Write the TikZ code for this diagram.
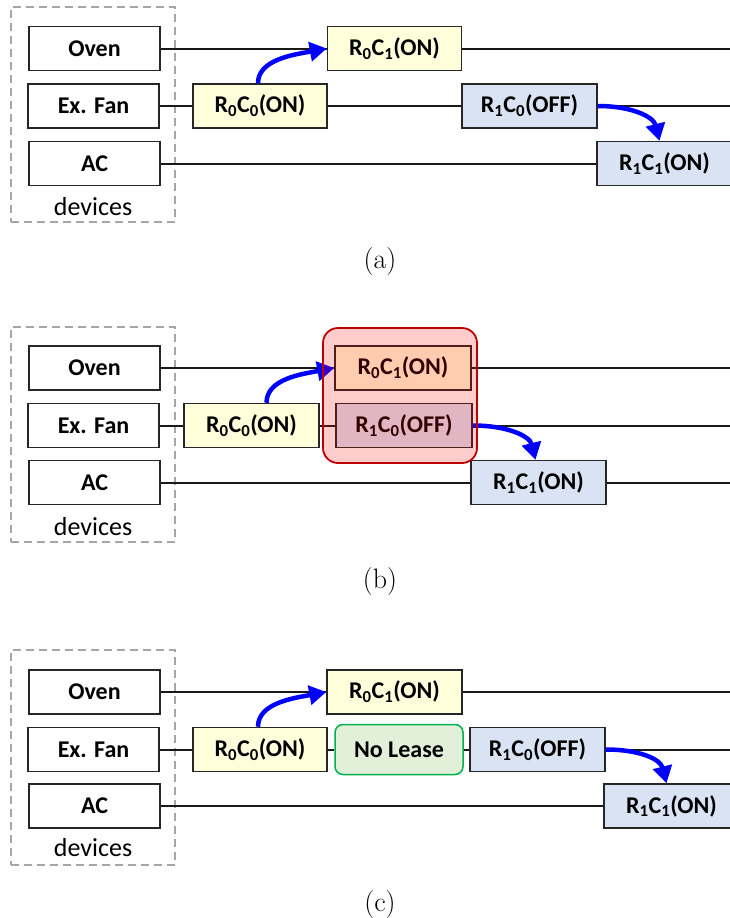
\documentclass[tikz,border=0pt]{standalone}
\usepackage{fontspec}
\newfontfamily\carlito{Carlito}
\usetikzlibrary{arrows.meta}

\definecolor{onFill}{HTML}{FFFFDC}
\definecolor{offFill}{HTML}{DAE3F3}
\definecolor{leaseFill}{HTML}{E2F0D9}
\definecolor{leaseDraw}{HTML}{00B050}
\definecolor{grpDraw}{HTML}{C00000}
\definecolor{frameGray}{HTML}{A6A6A6}
\definecolor{flowBlue}{HTML}{0000FF}

\tikzset{
  box/.style={draw=black!85, line width=1.5pt, inner sep=0pt, minimum height=44pt,
    font=\carlito\bfseries\fontsize{24}{28}\selectfont},
  device/.style={box, fill=white, minimum width=131pt},
  onbox/.style={box, fill=onFill, minimum width=134pt},
  offbox/.style={box, fill=offFill, minimum width=135pt},
  leasebox/.style={box, draw=leaseDraw, fill=leaseFill, rounded corners=8pt,
    minimum width=128pt, minimum height=50pt},
  devframe/.style={draw=frameGray, line width=1.8pt, dash pattern=on 8pt off 5pt,
    minimum width=164pt, minimum height=215pt, inner sep=0pt},
  devlabel/.style={font=\carlito\fontsize{26}{30}\selectfont, inner sep=0pt},
  grpbox/.style={draw=grpDraw, line width=1.8pt, fill=red, fill opacity=0.2,
    draw opacity=1, rounded corners=15pt, minimum width=154pt, minimum height=135pt},
  caption/.style={font=\fontsize{28}{32}\selectfont, inner sep=0pt},
  wire/.style={line width=2pt, black!90},
  flow/.style={line width=4.5pt, flowBlue, -{Triangle[length=17pt,width=19pt]}},
}

\newcommand{\rc}[3]{R\textsubscript{#1}C\textsubscript{#2}(#3)}

\begin{document}
\begin{tikzpicture}[x=1pt, y=-1pt]
\useasboundingbox (0,0) rectangle (730,918);

% ---------------- (a) ----------------
\node[devframe] (frameA) at (93,114.5) {};
\node[device] (ovenA) at (94.5,48.5) {Oven};
\node[device] (fanA) at (93.5,106) {Ex. Fan};
\node[device] (acA) at (94.5,163.5) {AC};
\node[devlabel] (devA) at (93,207) {devices};

\node[onbox] (r0c0A) at (260,106) {\rc{0}{0}{ON}};
\node[onbox] (r0c1A) at (394.5,48.5) {\rc{0}{1}{ON}};
\node[offbox] (r1c0A) at (529.5,106) {\rc{1}{0}{OFF}};
\node[offbox] (r1c1A) at (664.5,163.5) {\rc{1}{1}{ON}};

\coordinate (endA1) at (735,48.5);
\coordinate (endA2) at (735,106);

\draw[wire] (ovenA.east) -- (r0c1A.west);
\draw[wire] (r0c1A.east) -- (endA1);
\draw[wire] (fanA.east) -- (r0c0A.west);
\draw[wire] (r0c0A.east) -- (r1c0A.west);
\draw[wire] (r1c0A.east) -- (endA2);
\draw[wire] (acA.east) -- (r1c1A.west);

\draw[flow] ([xshift=-2pt]r0c0A.north) .. controls +(0,-24) and +(-32,6) .. (r0c1A.west);
\draw[flow] (r1c0A.east) .. controls +(34,0) and +(-6,-24) .. ([xshift=-5pt]r1c1A.north);

\node[caption] (capA) at (380,262) {(a)};

% ---------------- (b) ----------------
\node[devframe] (frameB) at (93,434.5) {};
\node[device] (ovenB) at (94.5,368) {Oven};
\node[device] (fanB) at (93.5,425.5) {Ex. Fan};
\node[device] (acB) at (94.5,482.5) {AC};
\node[devlabel] (devB) at (93,527) {devices};

\node[onbox, minimum width=135pt] (r0c0B) at (251.5,425.5) {\rc{0}{0}{ON}};
\node[onbox, minimum width=136pt] (r0c1B) at (403,368) {\rc{0}{1}{ON}};
\node[offbox, minimum width=136pt] (r1c0B) at (404,425.5) {\rc{1}{0}{OFF}};
\node[offbox] (r1c1B) at (538.5,482.5) {\rc{1}{1}{ON}};

\coordinate (endB1) at (735,368);
\coordinate (endB2) at (735,425.5);
\coordinate (endB3) at (735,482.5);

\draw[wire] (ovenB.east) -- (r0c1B.west);
\draw[wire] (r0c1B.east) -- (endB1);
\draw[wire] (fanB.east) -- (r0c0B.west);
\draw[wire] (r0c0B.east) -- (r1c0B.west);
\draw[wire] (r1c0B.east) -- (endB2);
\draw[wire] (acB.east) -- (r1c1B.west);
\draw[wire] (r1c1B.east) -- (endB3);

\draw[flow] ([xshift=15pt]r0c0B.north) .. controls +(0,-24) and +(-32,6) .. (r0c1B.west);
\draw[flow] (r1c0B.east) .. controls +(34,0) and +(-6,-24) .. ([xshift=-3pt]r1c1B.north);

% shared lease window laid over the two requests
\node[grpbox] (grpB) at (400,395.5) {};

\node[caption] (capB) at (380,582) {(b)};

% ---------------- (c) ----------------
\node[devframe] (frameC) at (93,757.5) {};
\node[device] (ovenC) at (94.5,692) {Oven};
\node[device] (fanC) at (93.5,749.5) {Ex. Fan};
\node[device] (acC) at (94.5,806) {AC};
\node[devlabel] (devC) at (93,848) {devices};

\node[onbox] (r0c0C) at (260,749.5) {\rc{0}{0}{ON}};
\node[onbox, minimum width=135pt] (r0c1C) at (394.5,692) {\rc{0}{1}{ON}};
\node[leasebox] (leaseC) at (399,749.5) {No Lease};
\node[offbox] (r1c0C) at (537.5,749.5) {\rc{1}{0}{OFF}};
\node[offbox] (r1c1C) at (671.5,806) {\rc{1}{1}{ON}};

\coordinate (endC1) at (735,692);
\coordinate (endC2) at (735,749.5);

\draw[wire] (ovenC.east) -- (r0c1C.west);
\draw[wire] (r0c1C.east) -- (endC1);
\draw[wire] (fanC.east) -- (r0c0C.west);
\draw[wire] (r0c0C.east) -- (leaseC.west);
\draw[wire] (leaseC.east) -- (r1c0C.west);
\draw[wire] (r1c0C.east) -- (endC2);
\draw[wire] (acC.east) -- (r1c1C.west);

\draw[flow] ([xshift=-2pt]r0c0C.north) .. controls +(0,-24) and +(-32,6) .. (r0c1C.west);
\draw[flow] (r1c0C.east) .. controls +(34,0) and +(-6,-24) .. ([xshift=-5pt]r1c1C.north);

\node[caption] (capC) at (380,905) {(c)};
\end{tikzpicture}
\end{document}
